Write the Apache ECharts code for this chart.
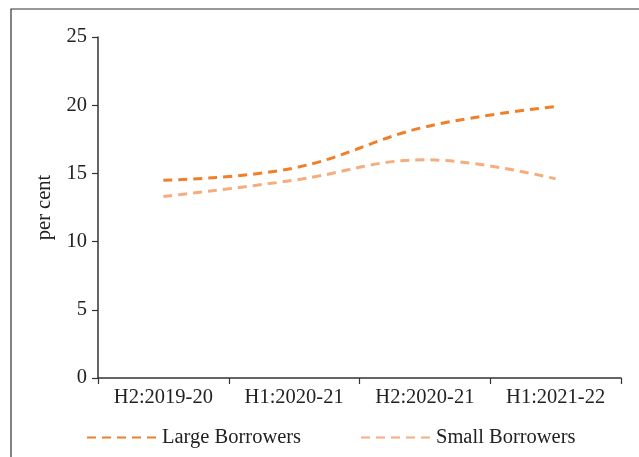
<!DOCTYPE html>
<html>
<head>
<meta charset="utf-8">
<script src="https://cdn.jsdelivr.net/npm/echarts@6/dist/echarts.min.js"></script>
<style>
html,body{margin:0;padding:0;background:#fff;}
#chart{width:639px;height:457px;}
</style>
</head>
<body>
<div id="chart"></div>
<script>
// Half-year periods
const periods = ['H2:2019-20', 'H1:2020-21', 'H2:2020-21', 'H1:2021-22'];
// Share (per cent) by borrower size
const largeBorrowers = [14.5, 15.4, 18.4, 19.9];
const smallBorrowers = [13.3, 14.5, 16.0, 14.6];
const yTicks = [0, 5, 10, 15, 20, 25];

const FONT = 'Liberation Serif';
const TEXT = '#222';
const FS = 20.5;

const legendBase = {
  top: 422,
  itemWidth: 70, itemHeight: 10, itemGap: 7,
  itemStyle: {opacity: 0},
  textStyle: {fontFamily: FONT, fontSize: FS, color: TEXT}
};

const chart = echarts.init(document.getElementById('chart'), null, {renderer: 'canvas'});
chart.setOption({
  backgroundColor: '#fff',
  animation: false,
  textStyle: {fontFamily: FONT, color: TEXT},
  graphic: [{
    type: 'rect',
    shape: {x: 11, y: 9, width: 700, height: 500},
    style: {fill: 'none', stroke: '#333', lineWidth: 1.2},
    silent: true
  }],
  grid: {left: 98, right: 18, top: 37, bottom: 79},
  legend: [
    Object.assign({left: 81, data: ['Large Borrowers']}, legendBase),
    Object.assign({left: 355, data: ['Small Borrowers']}, legendBase)
  ],
  xAxis: {
    type: 'category',
    data: periods,
    boundaryGap: true,
    axisLine: {lineStyle: {color: '#333', width: 1.5}},
    axisTick: {show: true, length: 6, lineStyle: {color: '#333', width: 1.2}},
    axisLabel: {fontFamily: FONT, fontSize: FS, color: TEXT, margin: 9}
  },
  yAxis: {
    type: 'value',
    min: yTicks[0],
    max: yTicks[yTicks.length - 1],
    interval: 5,
    name: 'per cent',
    nameLocation: 'middle',
    nameGap: 43,
    nameRotate: 90,
    nameTextStyle: {fontFamily: FONT, fontSize: FS, color: TEXT},
    axisLine: {show: true, lineStyle: {color: '#333', width: 1.5}},
    axisTick: {show: true, length: 6, lineStyle: {color: '#333', width: 1.2}},
    axisLabel: {fontFamily: FONT, fontSize: FS, color: TEXT, margin: 11},
    splitLine: {show: false}
  },
  series: [
    {
      name: 'Large Borrowers',
      type: 'line',
      data: largeBorrowers,
      smooth: 0.4,
      symbol: 'none',
      color: '#F07F2A',
      lineStyle: {color: '#F07F2A', width: 3, type: [9, 6]}
    },
    {
      name: 'Small Borrowers',
      type: 'line',
      data: smallBorrowers,
      smooth: 0.4,
      symbol: 'none',
      color: '#F6AD7E',
      lineStyle: {color: '#F6AD7E', width: 3, type: [9, 6]}
    }
  ]
});
</script>
</body>
</html>
